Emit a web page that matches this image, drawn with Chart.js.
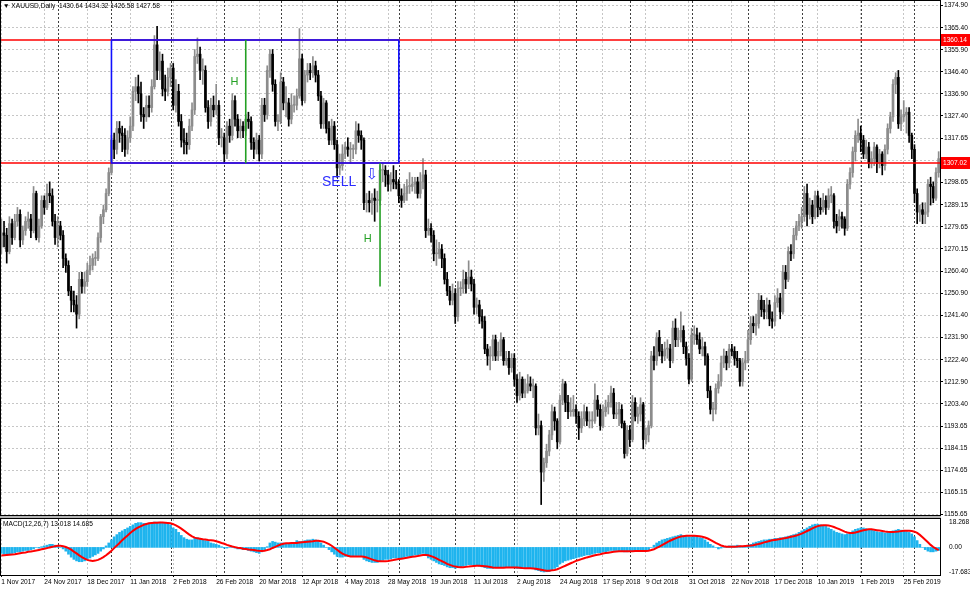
<!DOCTYPE html>
<html>
<head>
<meta charset="utf-8">
<script src="https://cdn.jsdelivr.net/npm/chart.js@4.4.1/dist/chart.umd.min.js"></script>
<style>
  html, body { margin: 0; padding: 0; background: #fff; }
  #wrap { position: relative; width: 970px; height: 590px; overflow: hidden; background: #fff; }
  #main { position: absolute; left: 0; top: 0; }
  #macd { position: absolute; left: 0; top: 516px; }
</style>
</head>
<body>
<div id="wrap">
  <canvas id="main" width="970" height="516"></canvas>
  <canvas id="macd" width="970" height="74"></canvas>
</div>
<script>
// --- data ---
const headerText = '\u25BC XAUUSD,Daily  1430.64 1434.32 1426.58 1427.58';
const macdText = 'MACD(12,26,7) 13.018 14.685';

const dateLabels = ['1 Nov 2017', '24 Nov 2017', '18 Dec 2017', '11 Jan 2018', '2 Feb 2018', '26 Feb 2018',
  '20 Mar 2018', '12 Apr 2018', '4 May 2018', '28 May 2018', '19 Jun 2018', '11 Jul 2018', '2 Aug 2018',
  '24 Aug 2018', '17 Sep 2018', '9 Oct 2018', '31 Oct 2018', '22 Nov 2018', '17 Dec 2018', '10 Jan 2019',
  '1 Feb 2019', '25 Feb 2019'];
const labelStep = 16; // bars between two date labels

const priceTicks = [1374.90, 1365.40, 1355.90, 1346.40, 1336.90, 1327.40, 1317.65, 1308.15, 1298.65, 1289.15,
  1279.65, 1270.15, 1260.40, 1250.90, 1241.40, 1231.90, 1222.40, 1212.90, 1203.40, 1193.65, 1184.15,
  1174.65, 1165.15, 1155.65];
const macdTicks = [18.268, 0, -17.683];

// first bar of each month (period separators)
const monthStarts = [21, 41, 63, 83, 104, 125, 148, 169, 191, 214, 234, 257, 278, 298, 320, 340];

// horizontal levels drawn on the chart
const levels = [1360.14, 1307.02];

// daily candles [open, high, low, close]
const ohlc = [
  // Nov 2017
  [1271,1283,1268,1277],[1277,1282,1271,1276],[1276,1279,1264,1269],[1269,1284,1268,1281],[1281,1283,1272,1275],
  [1275,1285,1274,1282],[1282,1288,1280,1285],[1285,1287,1271,1274],[1274,1280,1272,1278],[1278,1284,1276,1282],
  [1282,1286,1279,1283],[1283,1285,1275,1278],[1278,1297,1277,1294],[1294,1295,1274,1275],[1275,1283,1273,1280],
  [1280,1293,1279,1291],[1291,1293,1285,1288],[1288,1298,1287,1294],[1294,1299,1290,1293],[1293,1296,1280,1282],
  [1282,1285,1272,1275],
  // Dec 2017
  [1275,1284,1271,1280],[1280,1282,1274,1276],[1276,1278,1262,1266],[1266,1268,1260,1263],[1263,1265,1250,1252],
  [1252,1254,1243,1248],[1248,1252,1243,1246],[1246,1250,1236,1242],[1242,1260,1240,1257],[1257,1260,1251,1254],
  [1254,1260,1251,1256],[1256,1264,1254,1261],[1261,1267,1259,1263],[1263,1268,1261,1266],[1266,1269,1263,1266],
  [1266,1277,1265,1275],[1275,1285,1273,1284],[1284,1289,1281,1287],[1287,1296,1286,1294],[1294,1305,1293,1303],
  // Jan 2018
  [1303,1319,1302,1317],[1317,1320,1309,1313],[1313,1325,1311,1322],[1322,1325,1316,1320],[1320,1323,1312,1319],
  [1319,1322,1310,1313],[1313,1321,1311,1318],[1318,1327,1316,1323],[1323,1340,1321,1338],[1338,1344,1334,1340],
  [1340,1345,1333,1337],[1337,1342,1325,1328],[1328,1331,1322,1327],[1327,1336,1325,1332],[1332,1336,1327,1331],
  [1331,1343,1329,1340],[1340,1362,1339,1358],[1358,1366,1343,1347],[1347,1355,1343,1351],[1351,1354,1336,1339],
  [1339,1345,1334,1338],[1338,1348,1336,1344],
  // Feb 2018
  [1344,1350,1340,1348],[1348,1350,1330,1332],[1332,1343,1329,1338],[1338,1341,1323,1325],[1325,1328,1314,1317],
  [1317,1322,1311,1316],[1316,1320,1311,1315],[1315,1326,1313,1323],[1323,1333,1321,1330],[1330,1356,1328,1353],
  [1353,1361,1350,1354],[1354,1357,1343,1347],[1347,1352,1341,1347],[1347,1349,1329,1331],[1331,1334,1322,1325],
  [1325,1335,1323,1332],[1332,1336,1327,1330],[1330,1341,1328,1332],[1332,1334,1315,1318],[1318,1322,1314,1318],
  // Mar 2018
  [1318,1320,1307,1311],[1311,1325,1309,1323],[1323,1326,1316,1319],[1319,1337,1317,1334],[1334,1336,1323,1326],
  [1326,1328,1318,1321],[1321,1326,1318,1323],[1323,1325,1318,1321],[1321,1328,1319,1326],[1326,1329,1322,1325],
  [1325,1327,1313,1316],[1316,1318,1309,1313],[1313,1320,1311,1317],[1317,1319,1308,1311],[1311,1335,1309,1332],
  [1332,1335,1325,1328],[1328,1349,1326,1347],[1347,1356,1344,1354],[1354,1356,1338,1341],[1341,1343,1323,1325],
  [1325,1328,1321,1325],
  // Apr 2018
  [1325,1346,1324,1342],[1342,1344,1330,1333],[1333,1340,1327,1333],[1333,1335,1323,1326],[1326,1337,1324,1332],
  [1332,1336,1329,1332],[1332,1339,1330,1336],[1336,1365,1335,1352],[1352,1354,1332,1334],[1334,1347,1333,1345],
  [1345,1350,1342,1347],[1347,1350,1343,1346],[1346,1353,1344,1349],[1349,1351,1342,1345],[1345,1347,1334,1336],
  [1336,1338,1322,1324],[1324,1335,1322,1333],[1333,1334,1320,1322],[1322,1325,1315,1317],[1317,1326,1315,1323],
  [1323,1325,1313,1315],
  // May 2018
  [1315,1317,1301,1305],[1305,1311,1302,1306],[1306,1315,1304,1311],[1311,1316,1309,1314],[1314,1318,1310,1313],
  [1313,1316,1307,1313],[1313,1315,1309,1313],[1313,1325,1311,1321],[1321,1324,1316,1319],[1319,1321,1313,1317],
  [1317,1318,1287,1290],[1290,1294,1286,1291],[1291,1295,1286,1290],[1290,1294,1285,1292],[1292,1296,1282,1291],
  [1291,1295,1286,1291],[1291,1306,1289,1304],[1304,1307,1299,1304],[1304,1306,1297,1302],[1302,1304,1295,1298],
  [1298,1303,1295,1300],[1300,1306,1296,1299],[1299,1304,1296,1298],
  // Jun 2018
  [1298,1300,1290,1293],[1293,1296,1288,1291],[1291,1298,1290,1294],[1294,1300,1291,1297],[1297,1303,1294,1297],
  [1297,1301,1295,1298],[1298,1301,1294,1299],[1299,1301,1292,1294],[1294,1303,1292,1299],[1299,1309,1296,1302],
  [1302,1304,1275,1278],[1278,1283,1276,1279],[1279,1281,1273,1276],[1276,1278,1265,1268],[1268,1274,1263,1268],
  [1268,1273,1266,1270],[1270,1272,1262,1266],[1266,1268,1255,1257],[1257,1260,1250,1252],[1252,1254,1246,1248],
  [1248,1255,1246,1251],
  // Jul 2018
  [1251,1253,1238,1241],[1241,1256,1239,1253],[1253,1256,1250,1253],[1253,1261,1251,1257],[1257,1260,1251,1255],
  [1255,1265,1253,1258],[1258,1261,1252,1255],[1255,1257,1242,1245],[1245,1249,1242,1246],[1246,1248,1238,1241],
  [1241,1244,1236,1239],[1239,1241,1225,1227],[1227,1229,1220,1224],[1224,1228,1218,1224],[1224,1233,1222,1231],
  [1231,1233,1222,1224],[1224,1230,1222,1226],[1226,1234,1224,1231],[1231,1232,1220,1222],[1222,1226,1220,1223],
  [1223,1226,1216,1219],[1219,1225,1217,1223],
  // Aug 2018
  [1223,1225,1211,1214],[1214,1216,1204,1207],[1207,1217,1205,1214],[1214,1215,1206,1208],[1208,1214,1206,1209],
  [1209,1216,1208,1212],[1212,1215,1209,1211],[1211,1214,1206,1211],[1211,1212,1190,1193],[1193,1199,1190,1194],
  [1194,1196,1160,1174],[1174,1180,1170,1178],[1178,1186,1176,1183],[1183,1192,1181,1190],[1190,1203,1188,1200],
  [1200,1202,1192,1196],[1196,1197,1184,1187],[1187,1207,1186,1205],[1205,1214,1203,1212],[1212,1213,1200,1204],
  [1204,1207,1197,1200],[1200,1206,1198,1200],[1200,1207,1198,1201],
  // Sep 2018
  [1201,1203,1195,1198],[1198,1200,1188,1193],[1193,1200,1191,1197],[1197,1203,1194,1200],[1200,1202,1194,1196],
  [1196,1200,1193,1196],[1196,1200,1193,1196],[1196,1212,1195,1205],[1205,1207,1198,1201],[1201,1203,1192,1194],
  [1194,1203,1193,1200],[1200,1205,1198,1202],[1202,1207,1199,1204],[1204,1211,1202,1208],[1208,1210,1197,1199],
  [1199,1204,1197,1199],[1199,1204,1194,1201],[1201,1203,1193,1195],[1195,1196,1180,1182],[1182,1194,1181,1192],
  // Oct 2018
  [1192,1194,1185,1188],[1188,1207,1187,1204],[1204,1206,1196,1198],[1198,1202,1195,1199],[1199,1206,1196,1203],
  [1203,1204,1184,1188],[1188,1193,1186,1190],[1190,1196,1187,1194],[1194,1226,1193,1224],[1224,1228,1218,1222],
  [1222,1234,1220,1232],[1232,1235,1224,1226],[1226,1229,1221,1224],[1224,1230,1222,1227],[1227,1231,1223,1227],
  [1227,1229,1219,1222],[1222,1239,1221,1236],[1236,1240,1228,1231],[1231,1236,1228,1232],[1232,1243,1230,1235],
  [1235,1237,1225,1228],[1228,1230,1220,1223],[1223,1225,1212,1214],
  // Nov 2018
  [1214,1236,1213,1233],[1233,1237,1229,1233],[1233,1236,1229,1231],[1231,1234,1225,1227],[1227,1232,1224,1228],
  [1228,1230,1220,1224],[1224,1225,1206,1209],[1209,1211,1199,1201],[1201,1204,1196,1201],[1201,1212,1199,1210],
  [1210,1216,1208,1213],[1213,1224,1211,1221],[1221,1227,1219,1224],[1224,1226,1218,1221],[1221,1229,1219,1227],
  [1227,1229,1224,1226],[1226,1228,1220,1223],[1223,1226,1219,1222],[1222,1223,1211,1213],[1213,1223,1211,1221],
  [1221,1226,1218,1222],
  // Dec 2018
  [1222,1235,1221,1231],[1231,1241,1229,1238],[1238,1241,1234,1237],[1237,1242,1233,1238],[1238,1251,1236,1248],
  [1248,1250,1241,1244],[1244,1248,1240,1243],[1243,1249,1240,1246],[1246,1248,1237,1240],[1240,1243,1236,1239],
  [1239,1250,1237,1247],[1247,1253,1245,1249],[1249,1251,1240,1243],[1243,1263,1242,1260],[1260,1263,1253,1257],
  [1257,1271,1256,1269],[1269,1272,1265,1268],[1268,1279,1266,1276],[1276,1282,1274,1280],[1280,1285,1278,1282],
  // Jan 2019
  [1282,1288,1279,1284],[1284,1297,1282,1294],[1294,1298,1280,1285],[1285,1292,1283,1289],[1289,1291,1281,1284],
  [1284,1295,1283,1293],[1293,1295,1284,1288],[1288,1292,1285,1287],[1287,1294,1286,1291],[1291,1293,1285,1288],
  [1288,1296,1287,1293],[1293,1297,1290,1293],[1293,1294,1279,1282],[1282,1285,1277,1280],[1280,1287,1278,1284],
  [1284,1286,1279,1283],[1283,1284,1276,1279],[1279,1300,1278,1298],[1298,1305,1296,1303],[1303,1314,1301,1312],
  [1312,1321,1308,1319],[1319,1326,1316,1320],
  // Feb 2019
  [1320,1323,1312,1317],[1317,1319,1309,1311],[1311,1317,1309,1314],[1314,1316,1305,1307],[1307,1312,1305,1309],
  [1309,1316,1306,1314],[1314,1315,1303,1307],[1307,1313,1305,1311],[1311,1312,1302,1306],[1306,1315,1304,1313],
  [1313,1324,1311,1322],[1322,1329,1320,1327],[1327,1343,1325,1341],[1341,1346,1337,1344],[1344,1347,1322,1324],
  [1324,1330,1321,1327],[1327,1334,1325,1328],[1328,1331,1320,1329],[1329,1331,1316,1319],[1319,1320,1309,1313],
  // Mar 2019
  [1313,1315,1290,1294],[1294,1296,1281,1286],[1286,1289,1282,1287],[1287,1290,1281,1285],[1285,1290,1281,1286],
  [1286,1300,1284,1298],[1298,1301,1289,1297],[1297,1299,1290,1292],[1292,1305,1291,1303],[1303,1312,1301,1309]
];

// MACD main (histogram) and signal line, one value per bar
const macdMain = [
  -4.3,-4.9,-5.4,-4.9,-4.3,-3.8,-3.2,-3.2,-2.7,-2.2,-2.2,-1.6,-1.1,0,-0.5,
  0.5,1.1,1.6,2.2,2.2,1.6,1.1,0,
  -1.1,-2.7,-4.9,-7,-8.6,-9.7,-10.3,-10.3,-9.7,-8.6,-7.6,
  -6.5,-5.4,-4.3,-2.7,-1.1,1.1,3.2,
  5.4,7.6,9.2,10.8,11.9,13,14,15.1,16.2,17.3,
  17.8,17.8,17.3,17.3,17.4,17.8,18.268,18.2,18.1,17.8,17.3,16.7,
  16.2,14,13,10.8,8.6,7,5.9,
  5.4,5.4,6.5,7,6.5,5.9,
  4.9,4.3,3.2,2.7,2.2,1.6,0.5,-0.5,
  -0.5,0,0,-0.5,-1.1,-1.1,-1.6,-1.6,-2.2,-2.7,-3.2,-3.8,-4.3,-3.2,
  -1.6,0.5,3.2,4.3,3.8,
  3.2,3.2,3.2,2.7,2.7,2.7,3.2,4.9,4.3,4.3,4.9,5.4,5.4,5.9,5.4,4.9,
  3.2,1.6,0,-1.6,-3.2,-4.9,-6.5,
  -7,-7,-6.5,-6.5,-6.5,-6.5,-5.9,-5.9,-6.5,
  -8.6,-9.7,-10.3,-10.8,-10.8,-10.8,-9.7,-9.2,-8.6,-8.6,-8.1,
  -7.6,-7.6,-7.6,-7.6,-7,-6.5,-6.5,-5.9,-5.4,-5.4,-4.9,-4.3,-5.9,
  -7.6,-8.6,-9.7,-10.8,-11.9,-12.4,-13,-14,-14.6,-14.6,
  -15.1,-14.6,-14,-13.5,-13,-12.4,-12.4,-13,-13,-13.5,-14,-14.6,-15.1,-15.1,-15.1,-14.6,-14.6,-14,-14,-14,-14,
  -14,-14.6,-15.1,-15.1,-15.1,-15.1,-14.6,-14.6,-15.1,-16.2,-16.7,-17.3,-17.683,-17.5,
  -17.3,-16.2,-15.1,-14,-11.9,-10.8,-9.7,-9.2,-8.6,-8.1,-7.6,-7,
  -6.5,-5.9,-5.4,-5.4,-4.9,-4.3,-3.8,-3.8,-3.2,-3.2,-2.7,-2.2,-2.2,-2.2,-2.7,-2.7,-3.2,-3.2,-2.7,-2.7,-2.2,-2.2,-2.2,
  -2.7,-2.7,-2.2,
  0,1.6,3.2,4.3,5.4,5.9,6.5,7,7.6,8.1,8.6,9.2,
  8.6,8.1,7.6,7.6,8.1,7.6,7,
  6.5,5.4,3.8,2.2,1.1,0,-1.1,
  -0.5,0,0.5,1.1,1.1,1.1,1.6,1.1,0.5,1.1,1.6,
  2.2,3.2,3.8,4.3,4.9,5.4,5.4,5.9,5.9,6.5,
  6.5,7,7,7.6,8.1,8.6,9.2,9.7,
  10.8,11.9,13,14,15.1,16.2,16.7,
  16.7,16.2,15.7,15.1,14,13,11.9,10.8,10.3,9.7,9.2,
  9.7,10.8,11.9,13,13.5,14,14,13.5,13,
  12.4,11.9,11.3,10.8,10.8,10.3,10.8,11.3,11.9,
  12.4,13,12.4,11.9,11.3,10.8,9.7,7.6,
  4.9,2.2,0,-1.6,-2.7,-3.2,-3.2,-2.7,-2.2
];
const macdSignal = [
  -5.9,-5.7,-5.5,-5.3,-5.1,-4.9,-4.5,-4.2,-3.9,-3.6,-3.2,-2.9,-2.6,-2.2,-1.8,
  -1.4,-1,-0.5,0,0.4,0.9,1.1,1.1,
  0.9,0.3,-0.5,-1.6,-3,-4.3,-5.7,-7,-8.1,-9,-9.5,
  -9.7,-9.5,-9,-8.1,-7,-5.6,-4.1,
  -2.4,-0.5,1.3,3.2,5.2,7,8.6,10.3,11.9,13.3,
  14.4,15.3,16.2,16.8,17.3,17.5,17.7,17.8,17.9,17.9,17.8,17.6,
  17.3,16.7,15.9,14.8,13.5,12.1,10.6,
  9.2,7.9,7,6.5,6.2,5.9,
  5.7,5.4,5.2,4.9,4.4,3.9,3.2,2.6,
  1.8,1.2,0.6,0.2,-0.2,-0.5,-0.9,-1.2,-1.5,-1.7,-1.9,-2.2,-2.4,-2.5,
  -2.4,-1.9,-1.3,-0.4,0.4,
  1.3,2.1,2.6,2.9,3,3.1,3.1,3.2,3.5,3.7,3.9,4.1,4.3,4.5,4.8,4.8,
  4.5,4.1,3.3,2.4,1.2,-0.2,-1.7,
  -3.2,-4.5,-5.4,-6,-6.5,-6.6,-6.6,-6.5,-6.5,
  -6.7,-7.2,-7.9,-8.6,-9.3,-9.8,-10,-10,-9.9,-9.7,-9.4,
  -9.1,-8.7,-8.4,-8.1,-7.8,-7.5,-7.1,-6.8,-6.5,-6.2,-5.8,-5.5,-5.4,
  -5.7,-6.3,-7,-7.9,-8.9,-9.8,-10.8,-11.8,-12.6,-13.3,
  -13.8,-14.1,-14.3,-14.3,-14,-13.8,-13.5,-13.3,-13.2,-13.2,-13.3,-13.5,-13.8,-14.1,-14.4,-14.6,-14.7,-14.7,-14.6,-14.5,-14.4,
  -14.4,-14.4,-14.5,-14.6,-14.8,-14.9,-15,-15,-15.1,-15.3,-15.7,-16.1,-16.5,-16.7,
  -16.7,-16.5,-16.2,-15.7,-14.9,-14,-13.2,-12.3,-11.4,-10.6,-9.7,-9.1,
  -8.4,-7.8,-7.2,-6.7,-6.2,-5.7,-5.3,-4.9,-4.4,-4.1,-3.8,-3.5,-3.2,-3,-2.8,-2.7,-2.7,-2.7,-2.7,-2.7,-2.6,-2.5,-2.5,
  -2.5,-2.5,-2.4,
  -1.9,-1.3,-0.4,0.5,1.6,2.7,3.8,4.8,5.7,6.5,7.2,7.8,
  8.1,8.3,8.4,8.4,8.3,8.2,8,
  7.7,7.1,6.4,5.4,4.3,3.2,2.3,
  1.4,0.9,0.5,0.4,0.4,0.5,0.6,0.8,0.9,1,1.1,
  1.3,1.6,2.1,2.5,3,3.6,4.1,4.6,5.1,5.4,
  5.7,6,6.4,6.7,7.1,7.6,8,8.5,
  9.2,9.9,10.8,11.8,12.7,13.7,14.6,
  15.3,15.8,16,16,15.8,15.3,14.7,13.9,13.1,12.2,11.3,
  10.7,10.4,10.4,10.7,11.2,11.8,12.3,12.7,13,
  13,12.7,12.4,12.1,11.8,11.4,11.2,11.1,11.1,
  11.2,11.4,11.7,11.9,12,12,11.8,11.3,
  10.4,9,7.3,5.5,3.7,1.8,0.3,-0.9,-2
];

// drawn objects, anchored on bar index and price
const zoneBox = { fromBar: 41, toBar: 148, top: 1360.14, bottom: 1307.02 };
const heightLines = [
  { bar: 91, from: 1360.14, to: 1307.02, label: 'H', labelBar: 86.8, labelPrice: 1342.0 },
  { bar: 141, from: 1307.02, to: 1253.9, label: 'H', labelBar: 136.4, labelPrice: 1274.3 }
];
const sellMark = { text: 'SELL', bar: 119.4, price: 1298.9 };
const arrowMark = { text: '\u21E9', bar: 138, price: 1302.0 };

// --- styling ---
const FONT = 'Liberation Sans, Arial, sans-serif';
const SMALL = 6.6;
const bullColor = '#8c8c8c';
const bearColor = '#000000';
const gridColor = '#c6c6c6';
const sepColor = '#404040';
const histColor = '#1eb4ee';

Chart.defaults.font.family = FONT;
Chart.defaults.color = '#000';

const barIndex = ohlc.map((_, i) => i);
const candleColor = c => {
  const r = ohlc[c.dataIndex];
  return r && r[3] >= r[0] ? bullColor : bearColor;
};

const dateTicks = s => { s.ticks = dateLabels.map((_, k) => ({ value: k * labelStep })); };
const noPadY = w => s => { s.width = w; s.paddingTop = 0; s.paddingBottom = 0; };

// period separators and window frame (both windows)
const separators = {
  id: 'separators',
  beforeDatasetsDraw(chart) {
    const { ctx, chartArea: a, scales: { x } } = chart;
    ctx.save();
    ctx.strokeStyle = sepColor;
    ctx.lineWidth = 1;
    ctx.setLineDash([2, 2]);
    monthStarts.forEach(i => {
      const px = Math.round(x.getPixelForValue(i)) + 0.5;
      ctx.beginPath();
      ctx.moveTo(px, a.top);
      ctx.lineTo(px, a.bottom);
      ctx.stroke();
    });
    ctx.restore();
  },
  afterDraw(chart) {
    const { ctx, chartArea: a } = chart;
    ctx.save();
    ctx.strokeStyle = '#000';
    ctx.lineWidth = 1;
    ctx.strokeRect(a.left + 0.5, a.top - 0.5, a.right - a.left, a.bottom - a.top + 1);
    ctx.restore();
  }
};

// objects drawn on the price window
const drawings = {
  id: 'drawings',
  afterDatasetsDraw(chart) {
    const { ctx, chartArea: a, scales: { x, y } } = chart;
    ctx.save();
    // horizontal levels
    ctx.strokeStyle = '#ff0000';
    ctx.lineWidth = 1.6;
    levels.forEach(v => {
      const py = Math.round(y.getPixelForValue(v));
      ctx.beginPath();
      ctx.moveTo(a.left, py);
      ctx.lineTo(a.right, py);
      ctx.stroke();
    });
    // zone rectangle
    const x1 = x.getPixelForValue(zoneBox.fromBar), x2 = x.getPixelForValue(zoneBox.toBar);
    const y1 = Math.round(y.getPixelForValue(zoneBox.top)), y2 = Math.round(y.getPixelForValue(zoneBox.bottom));
    ctx.strokeStyle = '#1010ff';
    ctx.lineWidth = 1.6;
    ctx.strokeRect(x1, y1, x2 - x1, y2 - y1);
    // height lines
    ctx.strokeStyle = '#23a023';
    ctx.fillStyle = '#23a023';
    ctx.lineWidth = 1.6;
    ctx.font = '11px ' + FONT;
    ctx.textAlign = 'center';
    ctx.textBaseline = 'middle';
    heightLines.forEach(h => {
      const px = x.getPixelForValue(h.bar);
      ctx.beginPath();
      ctx.moveTo(px, y.getPixelForValue(h.from));
      ctx.lineTo(px, y.getPixelForValue(h.to));
      ctx.stroke();
      ctx.fillText(h.label, x.getPixelForValue(h.labelBar), y.getPixelForValue(h.labelPrice));
    });
    // sell text and arrow
    ctx.fillStyle = '#2b2bff';
    ctx.font = '14px ' + FONT;
    ctx.textAlign = 'left';
    ctx.fillText(sellMark.text, x.getPixelForValue(sellMark.bar), y.getPixelForValue(sellMark.price));
    ctx.font = '15px DejaVu Sans';
    ctx.textAlign = 'center';
    ctx.fillText(arrowMark.text, x.getPixelForValue(arrowMark.bar), y.getPixelForValue(arrowMark.price));
    ctx.restore();
  },
  afterDraw(chart) {
    const { ctx, chartArea: a, scales: { y } } = chart;
    ctx.save();
    ctx.font = SMALL + 'px ' + FONT;
    ctx.textBaseline = 'middle';
    levels.forEach(v => {
      const py = Math.round(y.getPixelForValue(v));
      ctx.fillStyle = '#ff0000';
      ctx.fillRect(a.right + 1, py - 6, 29, 12);
      ctx.fillStyle = '#ffffff';
      ctx.fillText(v.toFixed(2), a.right + 3, py);
    });
    ctx.fillStyle = '#000';
    ctx.fillText(headerText, 3, 6);
    ctx.restore();
  }
};

const macdLabel = {
  id: 'macdLabel',
  afterDraw(chart) {
    const { ctx, chartArea: a } = chart;
    ctx.save();
    ctx.fillStyle = '#b4b4b4';
    ctx.fillRect(0, 0, a.right + 1, 2);
    ctx.font = SMALL + 'px ' + FONT;
    ctx.textBaseline = 'middle';
    ctx.fillStyle = '#000';
    ctx.fillText(macdText, 3, 8);
    ctx.restore();
  }
};

new Chart(document.getElementById('main'), {
  type: 'bar',
  data: {
    labels: barIndex,
    datasets: [
      {
        data: ohlc.map(r => [r[0], r[3]]),
        backgroundColor: candleColor,
        barThickness: 2,
        minBarLength: 1,
        grouped: false,
        borderWidth: 0
      },
      {
        data: ohlc.map(r => [r[2], r[1]]),
        backgroundColor: candleColor,
        barThickness: 1,
        grouped: false,
        borderWidth: 0
      }
    ]
  },
  options: {
    responsive: false,
    animation: false,
    events: [],
    layout: { padding: { top: 1, bottom: 1, left: 0, right: 0 } },
    plugins: { legend: { display: false }, tooltip: { enabled: false } },
    scales: {
      x: {
        type: 'category',
        offset: true,
        afterBuildTicks: dateTicks,
        afterFit: s => { s.height = 0; s.paddingLeft = 0; s.paddingRight = 0; },
        ticks: { display: false, autoSkip: false },
        grid: { offset: false, color: gridColor, drawTicks: false },
        border: { display: false, dash: [2, 2] }
      },
      y: {
        position: 'right',
        min: 1155.5,
        max: 1376.9,
        afterBuildTicks: s => { s.ticks = priceTicks.map(v => ({ value: v })); },
        afterFit: noPadY(30),
        ticks: { callback: v => v.toFixed(2), font: { size: SMALL }, padding: 1, color: '#000' },
        grid: { color: gridColor, tickLength: 3, tickColor: '#000', tickBorderDash: [] },
        border: { display: false, dash: [2, 2] }
      }
    }
  },
  plugins: [separators, drawings]
});

new Chart(document.getElementById('macd'), {
  type: 'bar',
  data: {
    labels: barIndex,
    datasets: [
      {
        type: 'line',
        data: macdSignal,
        borderColor: '#ff0000',
        borderWidth: 2,
        pointRadius: 0,
        tension: 0
      },
      {
        data: macdMain,
        backgroundColor: histColor,
        barThickness: 2,
        borderWidth: 0
      }
    ]
  },
  options: {
    responsive: false,
    animation: false,
    events: [],
    layout: { padding: { top: 3, bottom: 0, left: 0, right: 0 } },
    plugins: { legend: { display: false }, tooltip: { enabled: false } },
    scales: {
      x: {
        type: 'category',
        offset: true,
        afterBuildTicks: dateTicks,
        afterFit: s => { s.height = 15; s.paddingLeft = 0; s.paddingRight = 0; },
        ticks: {
          autoSkip: false,
          maxRotation: 0,
          align: 'start',
          padding: 1,
          font: { size: SMALL },
          color: '#000',
          callback: (v, k) => dateLabels[k]
        },
        grid: { offset: false, color: gridColor, tickLength: 2, tickColor: '#000', tickBorderDash: [] },
        border: { display: false, dash: [2, 2] }
      },
      y: {
        position: 'right',
        min: -19.84,
        max: 20.42,
        afterBuildTicks: s => { s.ticks = macdTicks.map(v => ({ value: v })); },
        afterFit: noPadY(30),
        ticks: { callback: v => (v === 0 ? '0.00' : v.toFixed(3)), font: { size: SMALL }, padding: 1, color: '#000' },
        grid: { display: false },
        border: { display: false }
      }
    }
  },
  plugins: [separators, macdLabel]
});
</script>
</body>
</html>
